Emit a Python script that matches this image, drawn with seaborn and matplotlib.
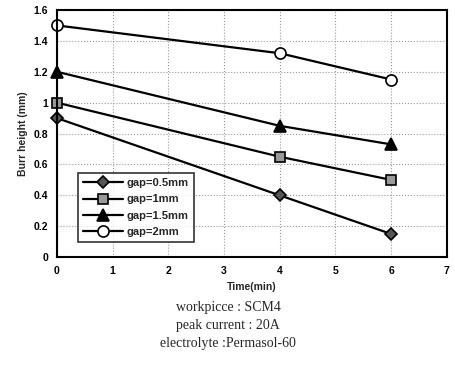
import numpy as np
import pandas as pd
import matplotlib
matplotlib.use("Agg")
import matplotlib.pyplot as plt
import seaborn as sns

# data
time_min = [0, 4, 6]
gap_05 = [0.9, 0.4, 0.15]
gap_1 = [1.0, 0.65, 0.5]
gap_15 = [1.2, 0.85, 0.73]
gap_2 = [1.5, 1.32, 1.15]
labels = ["gap=0.5mm", "gap=1mm", "gap=1.5mm", "gap=2mm"]

df = pd.DataFrame({
    "time": time_min * 4,
    "burr": gap_05 + gap_1 + gap_15 + gap_2,
    "gap": np.repeat(labels, len(time_min)),
})

sns.set_style("white")
plt.rcParams["font.family"] = ["Liberation Sans", "DejaVu Sans"]

fig = plt.figure(figsize=(4.56, 3.70), dpi=100)
ax = fig.add_axes([0.125, 0.305, 0.855, 0.668])

markers = {"gap=0.5mm": "D", "gap=1mm": "s", "gap=1.5mm": "^", "gap=2mm": "o"}
faces = {"gap=0.5mm": "#555555", "gap=1mm": "#999999", "gap=1.5mm": "black", "gap=2mm": "white"}
sizes = {"gap=0.5mm": 6, "gap=1mm": 7, "gap=1.5mm": 8, "gap=2mm": 8}

for g in labels:
    sub = df[df["gap"] == g]
    sns.lineplot(data=sub, x="time", y="burr", ax=ax, color="black", lw=1.6,
                 marker=markers[g], markersize=sizes[g], markerfacecolor=faces[g],
                 markeredgecolor="black", markeredgewidth=1.2, label=g, clip_on=False)

ax.set_xlim(0, 7)
ax.set_ylim(0, 1.6)
ax.set_xticks(range(0, 8))
ax.set_yticks([0, 0.2, 0.4, 0.6, 0.8, 1.0, 1.2, 1.4, 1.6])
ax.set_yticklabels(["0", "0.2", "0.4", "0.6", "0.8", "1", "1.2", "1.4", "1.6"])
ax.grid(True, color="#999999", linestyle=":", linewidth=0.8)
ax.tick_params(direction="inout", length=6, width=1.2, labelsize=7.5, colors="black")
for lab in ax.get_xticklabels() + ax.get_yticklabels():
    lab.set_fontweight("bold")
for s in ax.spines.values():
    s.set_color("black")
    s.set_linewidth(1.5)

ax.set_xlabel("Time(min)", fontsize=7.5, fontweight="bold", labelpad=4)
ax.set_ylabel("Burr height (mm)", fontsize=7.5, fontweight="bold", labelpad=4)

leg = ax.legend(loc="lower left", bbox_to_anchor=(0.04, 0.04), fontsize=8,
                frameon=True, fancybox=False, edgecolor="black", handlelength=3.6,
                borderpad=0.45, labelspacing=0.55, handletextpad=0.3)
leg.get_frame().set_linewidth(1.2)
for t in leg.get_texts():
    t.set_fontweight("bold")

caption = ["workpicce : SCM4", "peak current : 20A", "electrolyte :Permasol-60"]
for i, line in enumerate(caption):
    fig.text(0.5, 1 - (308 + 17.5 * i) / 370, line, ha="center", va="center",
             fontsize=10, family=["Liberation Serif", "DejaVu Serif"])

fig.savefig("out.png", dpi=100)
